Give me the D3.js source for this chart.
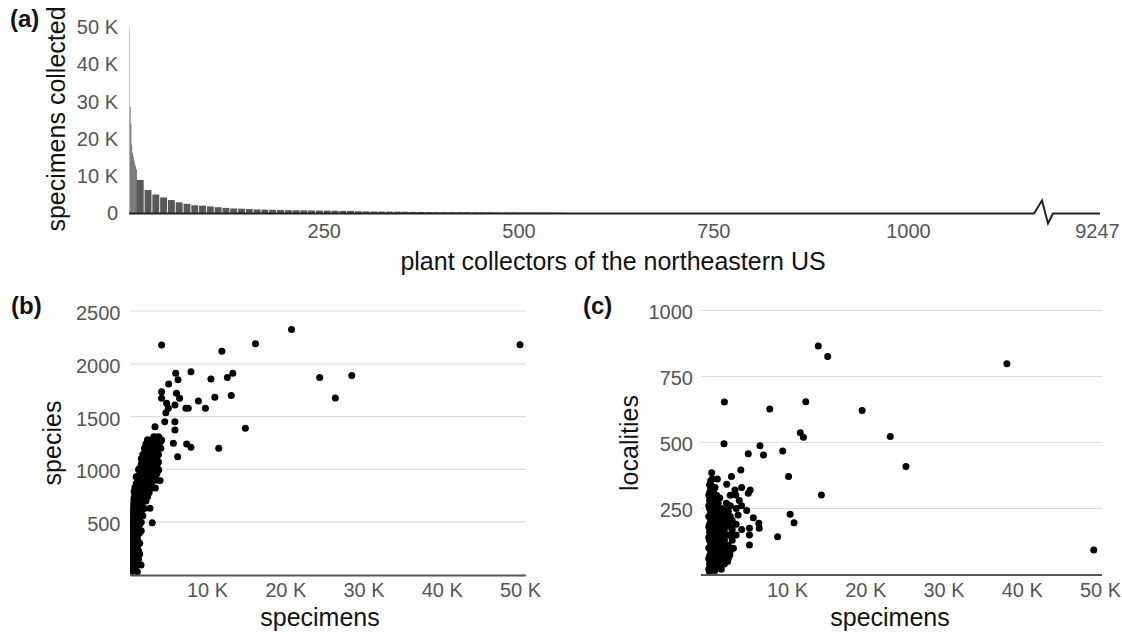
<!DOCTYPE html>
<html>
<head>
<meta charset="utf-8">
<script src="https://cdn.jsdelivr.net/npm/d3@7"></script>
<style>
  body { margin: 0; background: #fff; }
  svg { display: block; font-family: "Liberation Sans", Arial, sans-serif; }
</style>
</head>
<body>
<svg id="chart" width="1122" height="636"></svg>
<script>
// ---- data -------------------------------------------------------------
// (a) collectors ranked by specimens; first ranks single, then groups of 10 ranks
var barFirstRank = [1, 2, 3, 4, 5, 6, 7, 8, 9, 10,
  11, 21, 31, 41, 51, 61, 71, 81, 91, 101, 111, 121, 131, 141, 151, 161, 171, 181, 191,
  201, 211, 221, 231, 241, 251, 261, 271, 281, 291, 301, 311, 321, 331, 341, 351, 361, 371,
  381, 391, 401, 411, 421, 431, 441, 451, 461, 471, 481, 491, 501, 511, 521, 531, 541, 551];
var barLastRank = 560;
var barSpecimens = [50000, 28600, 24000, 18500, 16300, 15200, 14200, 13400, 12600, 11900,
  9000, 6300, 5100, 4300, 3600, 3000, 2600, 2200, 2100, 1900, 1700, 1500, 1350, 1300, 1200, 1100, 1050, 1000, 950,
  900, 880, 850, 820, 800, 780, 750, 720, 700, 600, 570, 550, 520, 500, 480, 460, 440, 420,
  380, 360, 350, 340, 330, 320, 310, 300, 290, 280, 270, 260, 250, 250, 240, 230, 220, 210];
var rankTicks = [250, 500, 750, 1000, 9247];
var totalCollectors = 9247;
var specimenTicksA = [0, 10000, 20000, 30000, 40000, 50000];

// (b) specimens vs species, one pair per collector
var speciesPoints = [
  [50000, 2180], [28500, 1890], [26400, 1675], [24400, 1870], [20800, 2325], [16200, 2190],
  [14900, 1390], [13300, 1910], [13100, 1700], [12600, 1870], [11900, 2120], [11500, 1200],
  [11000, 1683], [10500, 1856], [9800, 1578], [8900, 1648], [7950, 1925], [7950, 1210],
  [7400, 1240], [7300, 1578], [7600, 1578], [6250, 1120], [6000, 1910], [6300, 1850],
  [6500, 1673], [6100, 1720], [5900, 1452], [5900, 1610], [5900, 1373], [5700, 1247],
  [5100, 1808], [5050, 1578], [4850, 1626], [4750, 1537], [4600, 1452], [4200, 2178],
  [4200, 1735], [4200, 1673], [4100, 1265], [4100, 1200], [4200, 1278], [3800, 1310],
  [3350, 1404], [3400, 1305], [3900, 1300], [3800, 994], [3600, 900], [3400, 824],
  [4000, 895], [2700, 631], [3000, 495], [1570, 95], [2300, 1250], [2500, 1180],
  [2700, 1120], [2900, 1060],
  [50, 40], [50, 110], [50, 180], [50, 250], [50, 320], [50, 390], [50, 460], [50, 530], [50, 600],
  [200, 20], [200, 70], [200, 120], [200, 170], [200, 220], [200, 270], [200, 320],
  [200, 370], [200, 420], [200, 470], [200, 520], [200, 570],
  [350, 45], [350, 95], [350, 145], [350, 195], [350, 245], [350, 295], [350, 345],
  [350, 395], [350, 445], [350, 495], [350, 545], [350, 600], [350, 650],
  [500, 40], [500, 100], [500, 160], [500, 220], [500, 280], [500, 340], [500, 400],
  [500, 460], [500, 520], [500, 580], [500, 640], [500, 700],
  [650, 70], [650, 130], [650, 190], [650, 250], [650, 310], [650, 370], [650, 430],
  [650, 490], [650, 550], [650, 610], [650, 670], [650, 730], [650, 790],
  [800, 60], [800, 130], [800, 200], [800, 270], [800, 340], [800, 410], [800, 480],
  [800, 550], [800, 620], [800, 690], [800, 760], [800, 830],
  [950, 95], [950, 165], [950, 235], [950, 305], [950, 375], [950, 445], [950, 515],
  [950, 585], [950, 655], [950, 725], [950, 795], [950, 865], [950, 930],
  [1100, 30], [1100, 110], [1100, 190], [1100, 270], [1100, 350], [1100, 430], [1100, 510],
  [1100, 590], [1100, 670], [1100, 750], [1100, 830], [1100, 900],
  [1250, 150], [1250, 230], [1250, 310], [1250, 390], [1250, 470], [1250, 550], [1250, 630],
  [1250, 710], [1250, 790], [1250, 870], [1250, 940], [1250, 1000],
  [1400, 200], [1400, 300], [1400, 400], [1400, 480], [1400, 560], [1400, 640], [1400, 720],
  [1400, 800], [1400, 880], [1400, 950], [1400, 1010],
  [1600, 420], [1600, 500], [1600, 580], [1600, 660], [1600, 740], [1600, 820], [1600, 900],
  [1600, 980], [1600, 1050], [1600, 1100],
  [1800, 560], [1800, 640], [1800, 720], [1800, 800], [1800, 880], [1800, 950], [1800, 1020],
  [1800, 1080], [1800, 1140],
  [2000, 630], [2000, 700], [2000, 780], [2000, 860], [2000, 940], [2000, 1010], [2000, 1080],
  [2000, 1150], [2000, 1200],
  [2200, 700], [2200, 780], [2200, 860], [2200, 930], [2200, 1000], [2200, 1060], [2200, 1120],
  [2200, 1180], [2200, 1240],
  [2400, 740], [2400, 820], [2400, 900], [2400, 970], [2400, 1040], [2400, 1100], [2400, 1170],
  [2400, 1230], [2400, 1280],
  [2600, 780], [2600, 860], [2600, 940], [2600, 1010], [2600, 1080], [2600, 1140], [2600, 1200],
  [2600, 1260],
  [2800, 820], [2800, 900], [2800, 980], [2800, 1050], [2800, 1120], [2800, 1190], [2800, 1250],
  [3000, 880], [3000, 950], [3000, 1020], [3000, 1090], [3000, 1160], [3000, 1220], [3000, 1280],
  [3200, 910], [3200, 990], [3200, 1060], [3200, 1130], [3200, 1200], [3200, 1260], [3200, 1310],
  [3400, 940], [3400, 1010], [3400, 1080], [3400, 1150], [3400, 1220],
  [3600, 960], [3600, 1040], [3600, 1110], [3600, 1180], [3600, 1250],
  [3800, 1000], [3800, 1070], [3800, 1140], [3800, 1210]
];
var speciesTicks = [500, 1000, 1500, 2000, 2500];

// (c) specimens vs localities
var localityPoints = [
  [49200, 93], [38100, 798], [25200, 409], [23200, 523], [19600, 621], [15200, 826],
  [14000, 866], [14400, 301], [12400, 654], [11700, 537], [12100, 520], [10900, 196],
  [10400, 228], [10200, 371], [9450, 468], [8800, 143], [7800, 627], [7000, 453],
  [6550, 488], [6450, 175], [6400, 194], [5700, 215], [5300, 320], [5200, 175],
  [5200, 150], [5200, 112], [5050, 457], [5050, 308], [4850, 242], [4100, 396],
  [3900, 280], [3750, 225], [3450, 301], [3350, 320], [3150, 99], [2900, 371],
  [2800, 180], [2700, 74], [2400, 49], [2300, 342], [2000, 653], [1950, 495],
  [1100, 362], [930, 286], [700, 298], [450, 362], [380, 385],
  [0, 20], [0, 60], [0, 100], [0, 140], [0, 180], [0, 220], [0, 260], [0, 300],
  [100, 10], [100, 40], [100, 70], [100, 100], [100, 130], [100, 160], [100, 190],
  [100, 220], [100, 250], [100, 280], [100, 310], [100, 340],
  [250, 25], [250, 55], [250, 85], [250, 115], [250, 145], [250, 175], [250, 205],
  [250, 235], [250, 265], [250, 295], [250, 325], [250, 355],
  [400, 20], [400, 55], [400, 90], [400, 125], [400, 160], [400, 195], [400, 230],
  [400, 265], [400, 300], [400, 335],
  [600, 35], [600, 70], [600, 105], [600, 140], [600, 175], [600, 210], [600, 245],
  [600, 280], [600, 315],
  [800, 15], [800, 50], [800, 85], [800, 120], [800, 155], [800, 190], [800, 225],
  [800, 260], [800, 330],
  [1000, 30], [1000, 65], [1000, 100], [1000, 135], [1000, 170], [1000, 205], [1000, 240],
  [1000, 300],
  [1200, 30], [1200, 70], [1200, 110], [1200, 150], [1200, 190], [1200, 230], [1200, 270],
  [1400, 50], [1400, 90], [1400, 130], [1400, 170], [1400, 210], [1400, 250], [1400, 290],
  [1600, 20], [1600, 60], [1600, 100], [1600, 140], [1600, 180], [1600, 215], [1600, 250],
  [1800, 40], [1800, 80], [1800, 120], [1800, 160], [1800, 200], [1800, 235],
  [2000, 40], [2000, 85], [2000, 130], [2000, 170], [2000, 210], [2000, 245],
  [2250, 60], [2250, 105], [2250, 150], [2250, 190], [2250, 230], [2250, 270],
  [2500, 60], [2500, 110], [2500, 150], [2500, 200], [2500, 240],
  [2750, 90], [2750, 150], [2750, 220], [2750, 260], [2750, 300],
  [3000, 130], [3000, 170], [3000, 205],
  [3500, 150], [3500, 190], [3500, 250],
  [4200, 170], [4200, 260], [4200, 330]
];
var localityTicks = [250, 500, 750, 1000];
var specimenTicksBC = [10000, 20000, 30000, 40000, 50000];

// ---- drawing ----------------------------------------------------------
var svg = d3.select("#chart");
var tickColor = "#555";
var fmtK = function (d) { return d === 0 ? "0" : (d / 1000) + " K"; };

function styleTicks(g) {
  g.select(".domain").remove();
  g.selectAll(".tick line").remove();
  g.selectAll(".tick text")
    .attr("fill", tickColor)
    .style("font-size", "20px")
    .style("font-family", "'Liberation Sans', Arial, sans-serif");
}

// panel (a)
var xTop = d3.scaleLinear().domain([0, 1000, totalCollectors]).range([129, 908, 1097]);
var yTop = d3.scaleLinear().domain([0, 50000]).range([213.5, 27]);

var bars = barFirstRank.map(function (r, i) {
  var next = i < barFirstRank.length - 1 ? barFirstRank[i + 1] : barLastRank + 1;
  return { first: r, last: next - 1, value: barSpecimens[i] };
});

svg.append("g").selectAll("rect")
  .data(bars)
  .enter().append("rect")
  .attr("x", function (d) { return xTop(d.first - 1); })
  .attr("width", function (d) {
    var w = xTop(d.last) - xTop(d.first - 1);
    return w > 3 ? w - 0.9 : w;
  })
  .attr("y", function (d) { return yTop(d.value); })
  .attr("height", function (d) { return yTop(0) - yTop(d.value); })
  .attr("fill", function (d) { return d.first === 1 ? "#bdbdbd" : "#595959"; });

// baseline with the axis break
var base = yTop(0);
svg.append("path")
  .attr("d", "M" + xTop(0) + "," + base + "L1034," + base +
    "L1042," + (base - 13) + "L1048," + (base + 10) + "L1053," + base + "L1100," + base)
  .attr("fill", "none").attr("stroke", "#222").attr("stroke-width", 2);

svg.append("g").attr("transform", "translate(0," + base + ")")
  .call(d3.axisBottom(xTop).tickValues(rankTicks).tickFormat(d3.format("d")).tickSize(0).tickPadding(10))
  .call(styleTicks);

svg.append("g").attr("transform", "translate(129,0)")
  .call(d3.axisLeft(yTop).tickValues(specimenTicksA).tickFormat(fmtK).tickSize(0).tickPadding(11))
  .call(styleTicks);

// scatter panels
function scatter(cfg) {
  var x = d3.scaleLinear().domain([0, 50000]).range(cfg.xRange);
  var y = d3.scaleLinear().domain(cfg.yDomain).range([cfg.y0, cfg.yTop]);

  var g = svg.append("g");
  g.selectAll("line.grid")
    .data(cfg.yTicks)
    .enter().append("line")
    .attr("x1", cfg.panel[0]).attr("x2", cfg.panel[1])
    .attr("y1", function (d) { return y(d); }).attr("y2", function (d) { return y(d); })
    .attr("stroke", "#dedede").attr("stroke-width", 1.2);

  var clipId = "clip-" + cfg.name;
  svg.append("clipPath").attr("id", clipId)
    .append("rect")
    .attr("x", cfg.panel[0]).attr("y", 290)
    .attr("width", cfg.panel[1] - cfg.panel[0] + 6).attr("height", y(0) - 290 + 1);

  g.append("g").attr("clip-path", "url(#" + clipId + ")")
    .selectAll("circle")
    .data(cfg.points)
    .enter().append("circle")
    .attr("cx", function (d) { return x(d[0]); })
    .attr("cy", function (d) { return y(d[1]); })
    .attr("r", 3.5)
    .attr("fill", "#000");

  g.append("line")
    .attr("x1", cfg.panel[0]).attr("x2", cfg.panel[1])
    .attr("y1", y(0) + 0.5).attr("y2", y(0) + 0.5)
    .attr("stroke", "#555").attr("stroke-width", 2.2);

  g.append("g").attr("transform", "translate(0," + y(0) + ")")
    .call(d3.axisBottom(x).tickValues(specimenTicksBC).tickFormat(fmtK).tickSize(0).tickPadding(8))
    .call(styleTicks);

  g.append("g").attr("transform", "translate(" + cfg.panel[0] + ",0)")
    .call(d3.axisLeft(y).tickValues(cfg.yTicks).tickFormat(d3.format("d")).tickSize(0).tickPadding(cfg.labelPad))
    .call(styleTicks)
    .selectAll(".tick text").attr("dy", "0.42em");

  svg.append("text")
    .attr("x", cfg.titleX).attr("y", 626)
    .attr("text-anchor", "middle")
    .style("font-size", "25px").attr("fill", "#111")
    .text("specimens");

  svg.append("text")
    .attr("transform", "translate(" + cfg.yTitleX + ",443) rotate(-90)")
    .attr("text-anchor", "middle")
    .style("font-size", "25px").attr("fill", "#111")
    .text(cfg.yTitle);
}

scatter({
  name: "b", xRange: [128.75, 520], panel: [130.5, 526],
  yDomain: [0, 2500], y0: 575, yTop: 311, yTicks: speciesTicks,
  points: speciesPoints, labelPad: 10, titleX: 320, yTitleX: 61, yTitle: "species"
});
scatter({
  name: "c", xRange: [708.75, 1100], panel: [701, 1102],
  yDomain: [0, 1000], y0: 574.5, yTop: 310.5, yTicks: localityTicks,
  points: localityPoints, labelPad: 8, titleX: 890, yTitleX: 638, yTitle: "localities"
});

// titles and panel letters
svg.append("text")
  .attr("x", 613).attr("y", 270)
  .attr("text-anchor", "middle")
  .style("font-size", "25px").attr("fill", "#111")
  .text("plant collectors of the northeastern US");

svg.append("text")
  .attr("transform", "translate(65,119) rotate(-90)")
  .attr("text-anchor", "middle")
  .style("font-size", "25px").attr("fill", "#111")
  .text("specimens collected");

var letters = [["(a)", 10, 27], ["(b)", 11, 314], ["(c)", 583, 314]];
svg.selectAll("text.letter")
  .data(letters)
  .enter().append("text")
  .attr("class", "letter")
  .attr("x", function (d) { return d[1]; })
  .attr("y", function (d) { return d[2]; })
  .style("font-size", "24px").style("font-weight", "bold").attr("fill", "#111")
  .text(function (d) { return d[0]; });
</script>
</body>
</html>
